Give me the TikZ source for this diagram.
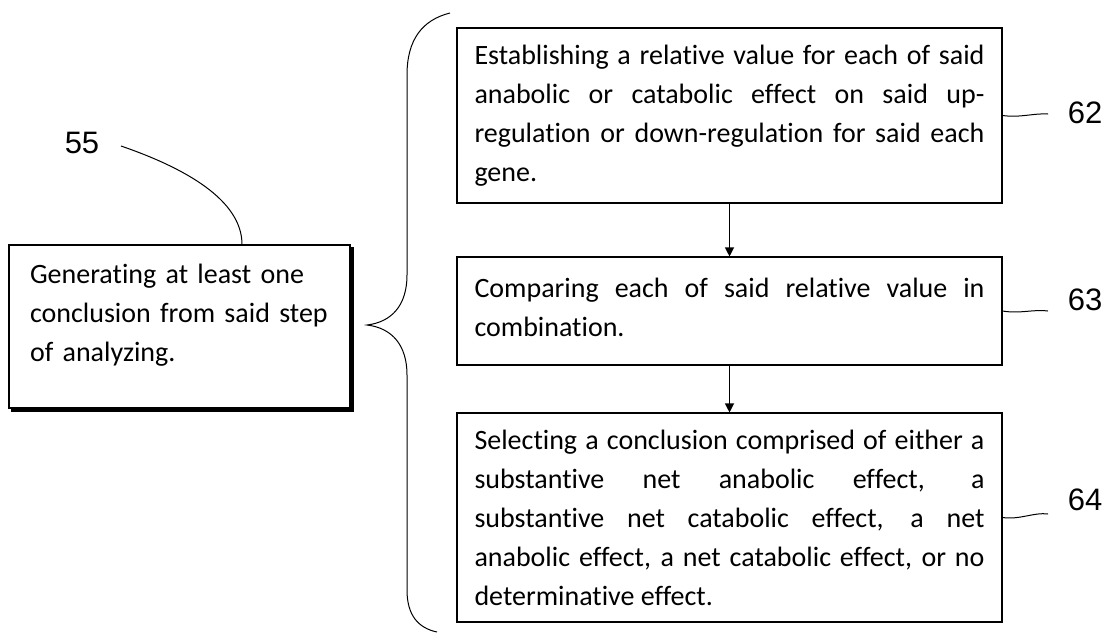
\documentclass[tikz,border=0pt]{standalone}
\usepackage{fontspec}
\setmainfont[Ligatures=NoCommon]{Carlito}
\newfontfamily\numfont{Liberation Sans}
\usetikzlibrary{arrows.meta,calc}
\hyphenpenalty=10000
\begin{document}
\begin{tikzpicture}[x=1pt,y=-1pt,
  box/.style={draw, line width=1.1pt, text width=510pt, inner xsep=17.5pt, inner ysep=0pt,
    align=justify, font=\fontsize{28}{39}\selectfont},
  lbox/.style={draw, line width=1.1pt, text width=299pt, inner xsep=21pt, inner ysep=0pt,
    align=left, font=\fontsize{28}{39}\selectfont, minimum height=163pt},
  num/.style={font=\numfont\fontsize{31}{31}\selectfont, inner sep=0pt},
  lead/.style={line width=1pt},
  arr/.style={line width=1.1pt, -{Triangle[length=9pt,width=9pt]}}]
\useasboundingbox (0,0) rectangle (1110,635);

\node[lbox] (lb) at (179.5,326.5) {Generating at least one\\conclusion from said step\\of analyzing.\rule[-28pt]{0pt}{0pt}};
\draw[line width=3pt] ($(lb.north east)+(1.5,3)$) -- ($(lb.south east)+(1.5,1.5)$) -- ($(lb.south west)+(3,1.5)$);

\node[box, minimum height=175pt] (b62) at (729.5,115.5) {Establishing a relative value for each of said\linebreak anabolic or catabolic effect on said up-\linebreak regulation or down-regulation for said each\linebreak gene.};
\node[box, minimum height=108pt] (b63) at (729.5,311) {Comparing each of said relative value in\linebreak combination.\rule[-8pt]{0pt}{0pt}};
\node[box, minimum height=209pt] (b64) at (729.5,517.5) {Selecting a conclusion comprised of either a\linebreak substantive net anabolic effect, a\linebreak substantive net catabolic effect, a net\linebreak anabolic effect, a net catabolic effect, or no\linebreak determinative effect.};

\draw[arr] (b62.south) -- (b63.north);
\draw[arr] (b63.south) -- (b64.north);

\node[num] (n55) at (82,143) {55};
\node[num] (n62) at (1085,113) {62};
\node[num] (n63) at (1085,300) {63};
\node[num] (n64) at (1085,500) {64};

\coordinate (e55) at (121,146);
\coordinate (e62) at (1048,114);
\coordinate (e63) at (1048,311);
\coordinate (e64) at (1048,514);
\draw[lead] (e55) .. controls (185,168) and (242,200) .. (lb.north -| 242,0);
\draw[lead] (b62.east) .. controls (1020,118) and (1034,113) .. (e62);
\draw[lead] (b63.east) .. controls (1020,314) and (1034,309) .. (e63);
\draw[lead] (b64.east) .. controls (1020,520) and (1034,512) .. (e64);

% brace
\coordinate (tip) at (367,325);
\draw[lead] (450,13) .. controls (422,20) and (407,40) .. (407,75) -- (407,275)
  .. controls (407,305) and (392,322) .. (tip)
  .. controls (392,328) and (407,345) .. (407,375) -- (407,590)
  .. controls (407,615) and (418,628) .. (437,632);
\end{tikzpicture}
\end{document}
